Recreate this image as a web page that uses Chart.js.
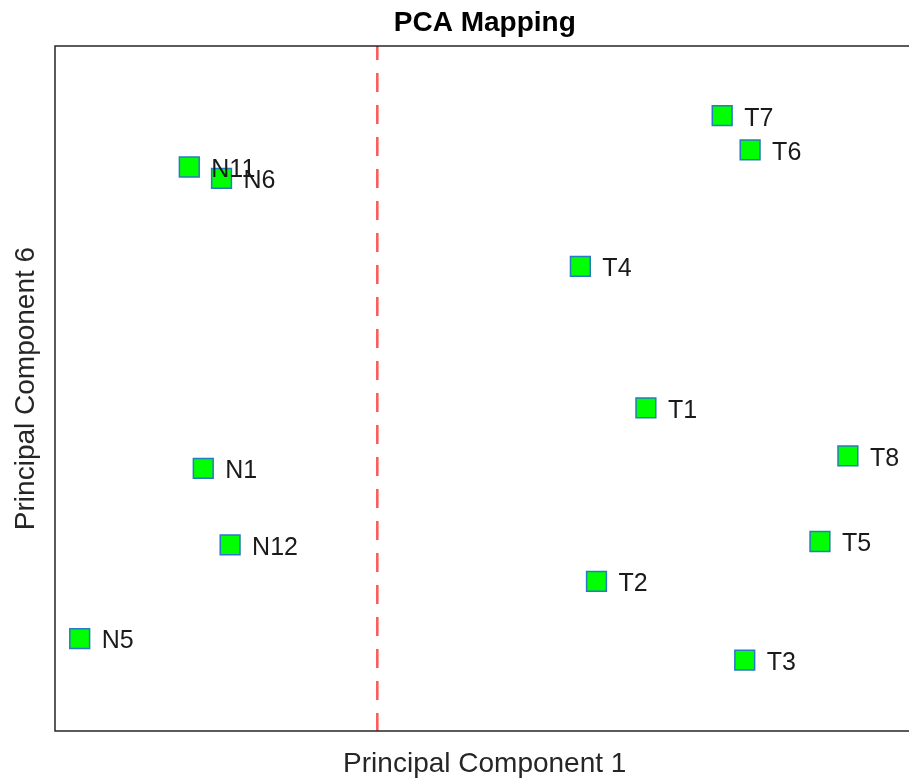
<!DOCTYPE html>
<html>
<head>
<meta charset="utf-8">
<script src="https://cdn.jsdelivr.net/npm/chart.js@4"></script>
<style>
  html, body { margin: 0; padding: 0; background: #fff; overflow: hidden; }
  canvas { display: block; }
</style>
</head>
<body>
<canvas id="pcaChart" width="930" height="782"></canvas>
<script>
// sample names and their scores on PC1 / PC6
const names = ['N11', 'N6', 'N1', 'N12', 'N5', 'T7', 'T6', 'T4', 'T1', 'T8', 'T5', 'T2', 'T3'];
const pc1 = [-1.75, -1.45, -1.62, -1.37, -2.77, 3.21, 3.47, 1.89, 2.50, 4.38, 4.12, 2.04, 3.42];
const pc6 = [1.94, 1.84, -0.70, -1.37, -2.19, 2.39, 2.09, 1.07, -0.17, -0.59, -1.34, -1.69, -2.38];
const splitX = 0;
const xRange = [-3, 5];
const yRange = [-3, 3];

const points = names.map((n, i) => ({ x: pc1[i], y: pc6[i] }));

const decor = {
  id: 'decor',
  afterDatasetsDraw(chart) {
    const { ctx, chartArea: a, scales } = chart;
    ctx.save();
    // point labels
    ctx.fillStyle = '#1a1a1a';
    ctx.font = '25px "Liberation Sans", Arial, sans-serif';
    ctx.textBaseline = 'middle';
    names.forEach((n, i) => {
      const px = scales.x.getPixelForValue(pc1[i]);
      const py = scales.y.getPixelForValue(pc6[i]);
      ctx.fillText(n, px + 22, py + 3);
    });
    // axes box
    ctx.strokeStyle = '#262626';
    ctx.lineWidth = 1.5;
    ctx.strokeRect(a.left, a.top, a.right - a.left, a.bottom - a.top);
    // title
    ctx.fillStyle = '#000';
    ctx.textAlign = 'center';
    ctx.font = 'bold 28px "Liberation Sans", Arial, sans-serif';
    ctx.fillText('PCA Mapping', (a.left + a.right) / 2, 23);
    // axis labels
    ctx.fillStyle = '#262626';
    ctx.font = '28px "Liberation Sans", Arial, sans-serif';
    ctx.fillText('Principal Component 1', (a.left + a.right) / 2, 764);
    ctx.translate(26, (a.top + a.bottom) / 2);
    ctx.rotate(-Math.PI / 2);
    ctx.fillText('Principal Component 6', 0, 0);
    ctx.restore();
  }
};

new Chart(document.getElementById('pcaChart'), {
  type: 'scatter',
  data: {
    datasets: [
      {
        type: 'line',
        data: [{ x: splitX, y: yRange[1] }, { x: splitX, y: yRange[0] }],
        borderColor: '#ff5555',
        borderWidth: 2.5,
        borderDash: [19, 13],
        borderDashOffset: 5,
        pointRadius: 0,
        fill: false
      },
      {
        data: points,
        pointStyle: 'rect',
        pointRadius: 14,
        pointBackgroundColor: '#00ff00',
        pointBorderColor: '#2a78c8',
        pointBorderWidth: 1.5
      }
    ]
  },
  options: {
    responsive: false,
    animation: false,
    layout: { padding: { left: 55, top: 46, right: 13, bottom: 51 } },
    plugins: { legend: { display: false }, tooltip: { enabled: false } },
    scales: {
      x: { type: 'linear', min: xRange[0], max: xRange[1], display: false },
      y: { type: 'linear', min: yRange[0], max: yRange[1], display: false }
    }
  },
  plugins: [decor]
});
</script>
</body>
</html>
